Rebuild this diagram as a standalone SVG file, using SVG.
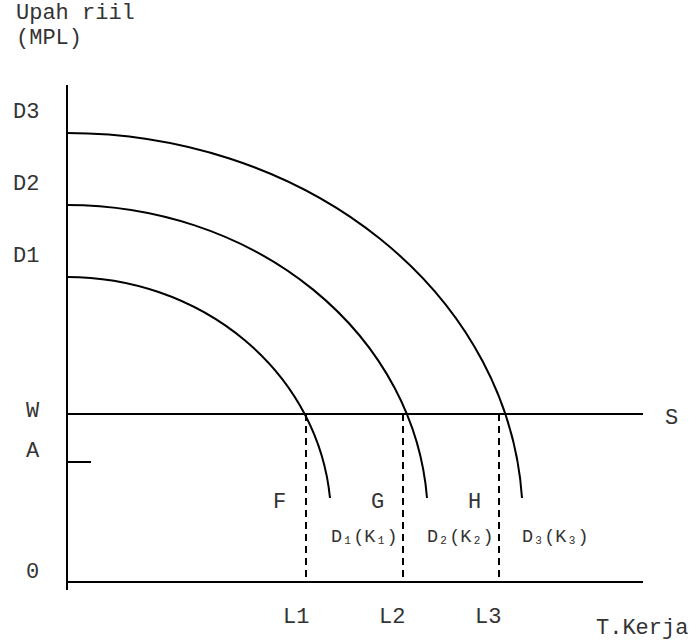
<svg xmlns="http://www.w3.org/2000/svg" width="696" height="643" viewBox="0 0 696 643">
<style>
text{font-family:"Liberation Mono","Courier New",monospace;font-size:22px;fill:#333}
.sm{font-size:18.5px}
.ax{stroke:#000;stroke-width:2;fill:none}
.cv{stroke:#000;stroke-width:2;fill:none}
.ds{stroke:#000;stroke-width:2;stroke-dasharray:7,5;fill:none}
</style>
<rect width="696" height="643" fill="#fff"/>
<g id="labels">
<text x="16" y="19">Upah riil</text>
<text x="16" y="44">(MPL)</text>
<text x="13" y="118">D3</text>
<text x="13" y="190">D2</text>
<text x="13" y="262">D1</text>
<text x="26" y="417">W</text>
<text x="26" y="457">A</text>
<text x="26" y="578">0</text>
<text x="665" y="424">S</text>
<text x="273" y="508">F</text>
<text x="371" y="508">G</text>
<text x="468" y="508">H</text>
<text class="sm" x="331" y="542">D₁(K₁)</text>
<text class="sm" x="427" y="542">D₂(K₂)</text>
<text class="sm" x="522" y="542">D₃(K₃)</text>
<text x="283" y="623">L1</text>
<text x="379" y="623">L2</text>
<text x="475" y="623">L3</text>
<text x="596" y="634">T.Kerja</text>
</g>
<g id="axes">
<line class="ax" x1="67" y1="85" x2="67" y2="590"/>
<line class="ax" x1="67" y1="582" x2="643" y2="582"/>
<line class="ax" x1="67" y1="414" x2="643" y2="414"/>
<line class="ax" x1="67" y1="462" x2="91" y2="462"/>
</g>
<g id="curves">
<path id="D1" class="cv" d="M67,277 A264,243 0 0 1 330,498"/>
<path id="D2" class="cv" d="M67,205 A361,315 0 0 1 427,498"/>
<path id="D3" class="cv" d="M67,133 A456,387 0 0 1 522,498"/>
</g>
<g id="connectors">
<line class="ds" x1="306" y1="414" x2="306" y2="582"/>
<line class="ds" x1="403" y1="414" x2="403" y2="582"/>
<line class="ds" x1="499" y1="414" x2="499" y2="582"/>
</g>
</svg>
